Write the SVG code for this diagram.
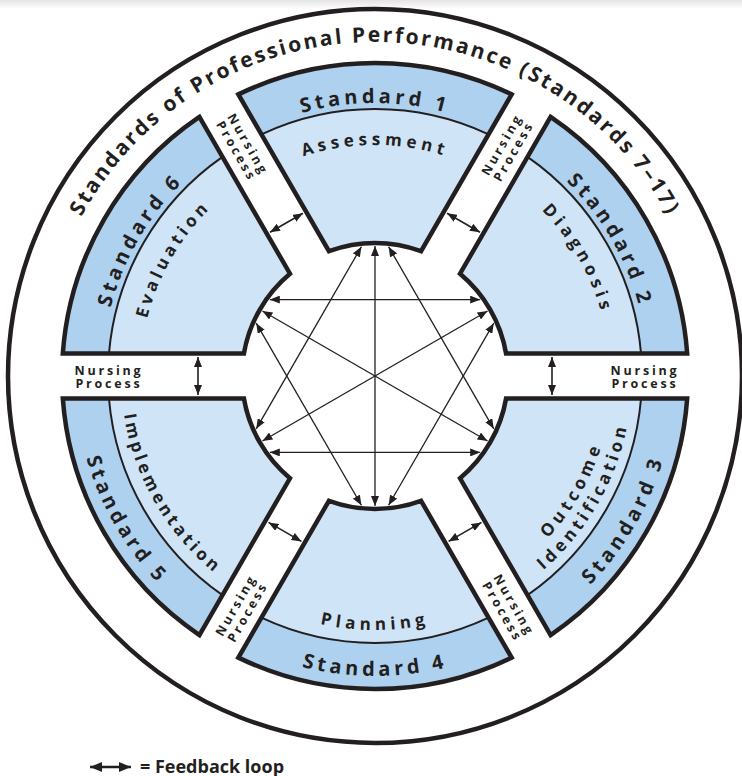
<svg xmlns="http://www.w3.org/2000/svg" width="742" height="776" viewBox="0 0 742 776">
<style>
text{font-family:"Open Sans","Noto Sans","DejaVu Sans",sans-serif;font-weight:700;fill:#231f20}
.light{fill:#cfe4f7}
.band{fill:#add1ef}
.outline{fill:none;stroke:#231f20;stroke-width:4.5;stroke-linejoin:miter}
.div{fill:none;stroke:#231f20;stroke-width:2}
.std{font-size:20px;letter-spacing:4px}
.lab{font-size:17px;letter-spacing:4.5px}
.np{font-size:12.5px;letter-spacing:2.8px}
.ring{font-size:21px;letter-spacing:2.4px}
.arrow{fill:none;stroke:#231f20;stroke-width:1.3;marker-start:url(#ah);marker-end:url(#ah)}
.fb{stroke-width:1.6}
</style>
<defs>
<linearGradient id="topShade" x1="0" y1="0" x2="0" y2="1"><stop offset="0" stop-color="#e4e4e4"/><stop offset="1" stop-color="#ffffff"/></linearGradient>
<marker id="ah" viewBox="0 0 10 8" refX="10" refY="4" markerWidth="10" markerHeight="8" markerUnits="userSpaceOnUse" orient="auto-start-reverse"><path d="M0,0 L10,4 L0,8 Z" fill="#231f20"/></marker>
<marker id="ahL" viewBox="0 0 12 10" refX="12" refY="5" markerWidth="12" markerHeight="10" markerUnits="userSpaceOnUse" orient="auto-start-reverse"><path d="M0,0 L12,5 L0,10 Z" fill="#231f20"/></marker>
<path id="segShape" d="M-136.61,-281.61 A313,313 0 0 1 136.61,-281.61 L46.05,-124.77 A133,133 0 0 0 -46.05,-124.77 Z"/>
<g id="seg">
<use href="#segShape" class="light"/>
<path class="band" d="M-136.61,-281.61 A313,313 0 0 1 136.61,-281.61 L113.54,-241.65 A267,267 0 0 0 -113.54,-241.65 Z"/>
<path class="div" d="M-113.54,-241.65 A267,267 0 0 1 113.54,-241.65"/>
<use href="#segShape" class="outline"/>
</g>
<path id="tR334" d="M-309.68,-125.12 A334,334 0 0 1 309.68,-125.12"/>
<path id="tR273" d="M-115.37,-247.42 A273,273 0 0 1 115.37,-247.42"/>
<path id="tR231" d="M-108.45,-203.96 A231,231 0 0 1 108.45,-203.96"/>
<path id="tR235" d="M-99.32,-212.98 A235,235 0 0 1 99.32,-212.98"/>
<path id="bR300" d="M-126.79,271.89 A300,300 0 0 0 126.79,271.89"/>
<path id="bR254" d="M-119.25,224.27 A254,254 0 0 0 119.25,224.27"/>
<path id="bR237" d="M-100.16,214.8 A237,237 0 0 0 100.16,214.8"/>
<path id="bR257" d="M-120.65,226.92 A257,257 0 0 0 120.65,226.92"/>
</defs>
<rect width="742" height="776" fill="#ffffff"/>
<rect width="742" height="9" fill="url(#topShade)"/>
<g transform="translate(375,376)">
<g id="outer-ring">
<circle r="367" fill="none" stroke="#231f20" stroke-width="4.5"/>
<text class="ring" text-anchor="middle"><textPath href="#tR334" startOffset="50%">Standards of Professional Performance (Standards 7–17)</textPath></text>
</g>
<g id="standard-1">
<use href="#seg"/>
<text class="std" text-anchor="middle"><textPath href="#tR273" startOffset="50%">Standard 1</textPath></text>
<text class="lab" text-anchor="middle"><textPath href="#tR231" startOffset="50%">Assessment</textPath></text>
</g>
<g id="standard-2">
<use href="#seg" transform="rotate(60)"/>
<text class="std" text-anchor="middle" transform="rotate(60)"><textPath href="#tR273" startOffset="50%">Standard 2</textPath></text>
<text class="lab" text-anchor="middle" transform="rotate(60)"><textPath href="#tR235" startOffset="50%">Diagnosis</textPath></text>
</g>
<g id="standard-3">
<use href="#seg" transform="rotate(120)"/>
<text class="std" text-anchor="middle" transform="rotate(-60)"><textPath href="#bR300" startOffset="50%">Standard 3</textPath></text>
<text class="lab" text-anchor="middle" transform="rotate(-60)"><textPath href="#bR237" startOffset="50%">Outcome</textPath></text>
<text class="lab" text-anchor="middle" transform="rotate(-60)" style="letter-spacing:4px"><textPath href="#bR257" startOffset="50%">Identification</textPath></text>
</g>
<g id="standard-4">
<use href="#seg" transform="rotate(180)"/>
<text class="std" text-anchor="middle"><textPath href="#bR300" startOffset="50%">Standard 4</textPath></text>
<text class="lab" text-anchor="middle"><textPath href="#bR254" startOffset="50%">Planning</textPath></text>
</g>
<g id="standard-5">
<use href="#seg" transform="rotate(240)"/>
<text class="std" text-anchor="middle" transform="rotate(60)"><textPath href="#bR300" startOffset="50%">Standard 5</textPath></text>
<text class="lab" text-anchor="middle" transform="rotate(60)" style="letter-spacing:3.6px"><textPath href="#bR254" startOffset="50%">Implementation</textPath></text>
</g>
<g id="standard-6">
<use href="#seg" transform="rotate(300)"/>
<text class="std" text-anchor="middle" transform="rotate(-60)"><textPath href="#tR273" startOffset="50%">Standard 6</textPath></text>
<text class="lab" text-anchor="middle" transform="rotate(-60)" style="letter-spacing:4px"><textPath href="#tR235" startOffset="50%">Evaluation</textPath></text>
</g>
<g id="connectors">
<line class="arrow fb" x1="-177" y1="-19" x2="-177" y2="19"/>
<line class="arrow fb" x1="177" y1="-19" x2="177" y2="19"/>
<line class="arrow fb" x1="-72.05" y1="-162.79" x2="-104.95" y2="-143.79"/>
<line class="arrow fb" x1="72.05" y1="-162.79" x2="104.95" y2="-143.79"/>
<line class="arrow fb" x1="-106.45" y1="146.39" x2="-73.55" y2="165.39"/>
<line class="arrow fb" x1="73.55" y1="165.39" x2="106.45" y2="146.39"/>
<line class="arrow" x1="0" y1="-130" x2="0" y2="130"/>
<line class="arrow" x1="-112.58" y1="-65" x2="112.58" y2="65"/>
<line class="arrow" x1="112.58" y1="-65" x2="-112.58" y2="65"/>
<line class="arrow" x1="-105.17" y1="-76.41" x2="105.17" y2="-76.41"/>
<line class="arrow" x1="-105.17" y1="76.41" x2="105.17" y2="76.41"/>
<line class="arrow" x1="13.59" y1="-129.29" x2="118.76" y2="52.87"/>
<line class="arrow" x1="-13.59" y1="-129.29" x2="-118.76" y2="52.87"/>
<line class="arrow" x1="118.76" y1="-52.87" x2="13.59" y2="129.29"/>
<line class="arrow" x1="-13.59" y1="129.29" x2="-118.76" y2="-52.87"/>
</g>
<g id="gap-labels">
<text class="np" text-anchor="middle" transform="translate(-266,0)"><tspan x="0" y="-1.5">Nursing</tspan><tspan x="0" y="12">Process</tspan></text>
<text class="np" text-anchor="middle" transform="translate(270,0)"><tspan x="0" y="-1.5">Nursing</tspan><tspan x="0" y="12">Process</tspan></text>
<text class="np" text-anchor="middle" transform="translate(-132,-228.63) rotate(60)"><tspan x="0" y="-1.5">Nursing</tspan><tspan x="0" y="12">Process</tspan></text>
<text class="np" text-anchor="middle" transform="translate(132,-228.63) rotate(-60)"><tspan x="0" y="-1.5">Nursing</tspan><tspan x="0" y="12">Process</tspan></text>
<text class="np" text-anchor="middle" transform="translate(-134,232.09) rotate(-60)"><tspan x="0" y="-1.5">Nursing</tspan><tspan x="0" y="12">Process</tspan></text>
<text class="np" text-anchor="middle" transform="translate(134,232.09) rotate(60)"><tspan x="0" y="-1.5">Nursing</tspan><tspan x="0" y="12">Process</tspan></text>
</g>
</g>
<g id="legend">
<line x1="90" y1="767" x2="131" y2="767" stroke="#231f20" stroke-width="2.5" marker-start="url(#ahL)" marker-end="url(#ahL)"/>
<text x="140" y="772.5" font-size="18">= Feedback loop</text>
</g>
</svg>
